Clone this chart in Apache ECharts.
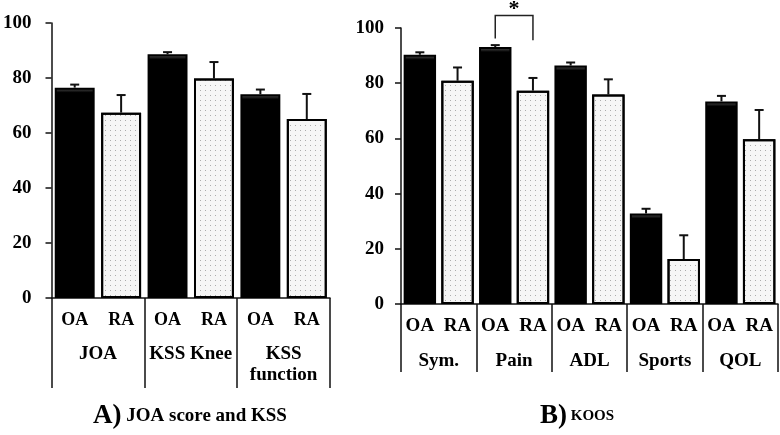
<!DOCTYPE html>
<html>
<head>
<meta charset="utf-8">
<script src="https://cdn.jsdelivr.net/npm/echarts@6/dist/echarts.min.js"></script>
<style>html,body{margin:0;padding:0;background:#fff;}#c{width:780px;height:435px;}</style>
</head>
<body>
<div id="c"></div>
<script>
// ---- Data ----
const subCats = ['OA', 'RA'];
const leftGroups = ['JOA', 'KSS Knee', 'KSS\nfunction'];
const leftOA = [76.5, 88.6, 74.1];
const leftOAErr = [1.1, 0.8, 1.7];
const leftRA = [67.4, 79.8, 65.1];
const leftRAErr = [6.4, 6.0, 9.1];

const rightGroups = ['Sym.', 'Pain', 'ADL', 'Sports', 'QOL'];
const rightOA = [90.3, 93.1, 86.4, 32.8, 73.4];
const rightOAErr = [0.9, 0.7, 1.1, 1.7, 2.0];
const rightRA = [80.9, 77.3, 75.9, 16.3, 59.7];
const rightRAErr = [4.8, 4.6, 5.5, 8.6, 10.6];

// significance bracket: [leftIdx, rightIdx, leftLegBottom, top, rightLegBottom]
const sigBracket = [2, 3, 96.2, 104.5, 95.6];
const sigMark = '*';

const FONT = 'Liberation Serif';

function interleave(a, b) { const r = []; a.forEach((v, i) => { r.push(v, b[i]); }); return r; }

function oaStyle(v) {
  const h = Math.max(v, 1);
  const edge = Math.min(0.25, 1.8 / h);
  return {
    color: { type: 'linear', x: 0, y: 0, x2: 0, y2: 1, colorStops: [
      { offset: 0, color: '#5a5a5a' }, { offset: edge, color: '#000' }, { offset: 1, color: '#000' } ] },
    borderColor: '#000', borderWidth: 2
  };
}
const raStyle = {
  color: '#f6f6f6', borderColor: '#000', borderWidth: 2,
  decal: { symbol: 'rect', symbolSize: 1, color: 'rgba(0,0,0,0.3)', dashArrayX: [1, 4], dashArrayY: [1, 4], rotation: 0 }
};

function build(gi, groups, oa, oaErr, ra, raErr, cfg) {
  const cats = [];
  groups.forEach(() => cats.push(...subCats));
  const vals = interleave(oa, ra);
  const errs = interleave(oaErr, raErr);
  const barData = vals.map((v, i) => ({ value: v, itemStyle: i % 2 === 0 ? oaStyle(v) : raStyle }));
  const errData = vals.map((v, i) => [i, v, v + errs[i]]);
  const xAxes = [
    {
      gridIndex: gi, type: 'category', data: cats, position: 'bottom',
      axisLine: { lineStyle: { color: '#111', width: 1.5 } },
      axisTick: { interval: 0, length: cfg.tick1, lineStyle: { color: '#111', width: 1.5 } },
      axisLabel: { interval: 0, margin: cfg.m1, fontFamily: FONT, fontWeight: 'bold', fontSize: cfg.fs1, color: '#000' }
    },
    {
      gridIndex: gi, type: 'category', data: groups, position: 'bottom',
      axisLine: { show: false },
      axisTick: { show: true, interval: 0, length: cfg.tick2, lineStyle: { color: '#111', width: 1.5 } },
      axisLabel: { interval: 0, margin: cfg.m2, fontFamily: FONT, fontWeight: 'bold', fontSize: cfg.fs2, lineHeight: 21, color: '#000' }
    }
  ];
  const yAxis = {
    gridIndex: gi, type: 'value', min: 0, max: 100, interval: 20,
    axisLine: { show: true, lineStyle: { color: '#111', width: 1.5 } },
    axisTick: { show: true, length: 6, lineStyle: { color: '#111', width: 1.5 } },
    splitLine: { show: false },
    axisLabel: { margin: cfg.ym, fontFamily: FONT, fontWeight: 'bold', fontSize: 19, color: '#000' }
  };
  const series = [
    { type: 'bar', xAxisIndex: gi * 2, yAxisIndex: gi, data: barData, barCategoryGap: '14%', z: 2 },
    {
      type: 'custom', xAxisIndex: gi * 2, yAxisIndex: gi, data: errData, z: 3,
      renderItem: function (params, api) {
        const base = api.coord([api.value(0), api.value(1)]);
        const top = api.coord([api.value(0), api.value(2)]);
        const st = { stroke: '#111', lineWidth: 2 };
        return {
          type: 'group', children: [
            { type: 'line', shape: { x1: base[0], y1: base[1], x2: top[0], y2: top[1] }, style: st },
            { type: 'line', shape: { x1: top[0] - 4.5, y1: top[1], x2: top[0] + 4.5, y2: top[1] }, style: st }
          ]
        };
      }
    }
  ];
  return { xAxes, yAxis, series };
}

const L = build(0, leftGroups, leftOA, leftOAErr, leftRA, leftRAErr, { tick1: 33, tick2: 90, m1: 13, m2: 46, fs1: 18, fs2: 19, ym: 20 });
const R = build(1, rightGroups, rightOA, rightOAErr, rightRA, rightRAErr, { tick1: 34, tick2: 68, m1: 13, m2: 47, fs1: 19, fs2: 19, ym: 17 });

const bracketSeries = {
  type: 'custom', xAxisIndex: 2, yAxisIndex: 1, data: [sigBracket], z: 4, clip: false,
  renderItem: function (params, api) {
    const a = api.coord([api.value(0), api.value(2)]);
    const t1 = api.coord([api.value(0), api.value(3)]);
    const t2 = api.coord([api.value(1), api.value(3)]);
    const b = api.coord([api.value(1), api.value(4)]);
    return {
      type: 'group', children: [
        { type: 'polyline', shape: { points: [a, t1, t2, b] }, style: { stroke: '#222', lineWidth: 1.5, fill: null } },
        { type: 'text', x: (t1[0] + t2[0]) / 2, y: t1[1] + 5,
          style: { text: sigMark, fontFamily: FONT, fontWeight: 'bold', fontSize: 22, fill: '#000', align: 'center', verticalAlign: 'bottom' } }
      ]
    };
  }
};

const chart = echarts.init(document.getElementById('c'), null, { renderer: 'canvas' });
chart.setOption({
  backgroundColor: '#fff',
  animation: false,
  title: [
    { text: '{a|A)}{b| JOA score and KSS}', left: 88, top: 398,
      textStyle: { rich: { a: { fontFamily: FONT, fontWeight: 'bold', fontSize: 27, color: '#000' }, b: { fontFamily: FONT, fontWeight: 'bold', fontSize: 19, color: '#000' } } } },
    { text: '{a|B)}{b| KOOS}', left: 535, top: 398,
      textStyle: { rich: { a: { fontFamily: FONT, fontWeight: 'bold', fontSize: 27, color: '#000' }, b: { fontFamily: FONT, fontWeight: 'bold', fontSize: 15, color: '#000' } } } }
  ],
  grid: [
    { left: 50, top: 23, width: 280, height: 275 },
    { left: 401, top: 28, width: 377, height: 276 }
  ],
  xAxis: [...L.xAxes, ...R.xAxes],
  yAxis: [L.yAxis, R.yAxis],
  series: [...L.series, ...R.series, bracketSeries]
});
</script>
</body>
</html>
